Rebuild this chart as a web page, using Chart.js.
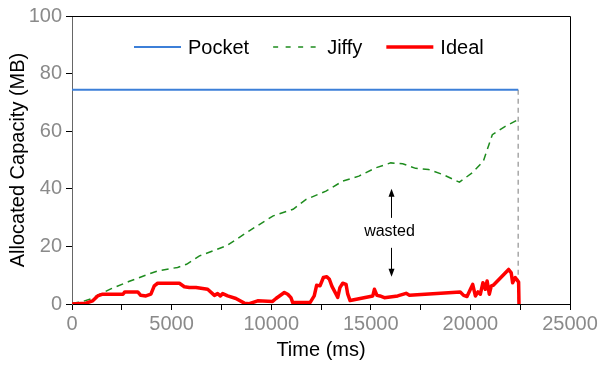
<!DOCTYPE html>
<html>
<head>
<meta charset="utf-8">
<script src="https://cdn.jsdelivr.net/npm/chart.js@4.4.1/dist/chart.umd.min.js"></script>
<style>
html,body{margin:0;padding:0;background:#fff;}
#wrap{width:600px;height:366px;}
</style>
</head>
<body>
<div id="wrap"><canvas id="c" width="600" height="366"></canvas></div>
<script>
// ---------- data ----------
const pocketTime = [0, 22400];
const pocketMB   = [74.4, 74.4];

const jiffyTime = [0, 500, 950, 1400, 2000, 2850, 3700, 4300, 5300, 5750, 6400, 7750, 8900, 10100, 11100, 11750, 12750, 13600, 14400, 15250, 16000, 16600, 17250, 17900, 18600, 19450, 20100, 20650, 21100, 21750, 22300];
const jiffyMB   = [0.3, 0.8, 1.8, 3.4, 5.4, 7.8, 10.0, 11.5, 12.7, 13.8, 16.7, 20.2, 25.4, 30.6, 32.9, 36.3, 39.2, 42.7, 44.4, 47.3, 49.0, 48.7, 47.1, 46.7, 45.0, 42.3, 45.6, 49.6, 58.8, 61.7, 63.7];

const idealTime = [0, 700, 1040, 1290, 1540, 2560, 2650, 3300, 3450, 3710, 3960, 4130, 4300, 5390, 5640, 5890, 6225, 6810, 7150, 7310, 7445, 7565, 7815, 8230, 8650, 8900, 9320, 10070, 10240, 10660, 10830, 10990, 11080, 11950, 12160, 12280, 12450, 12620, 12790, 12920, 13050, 13250, 13340, 13450, 13590, 13760, 13840, 13960, 14090, 15100, 15180, 15310, 15460, 15680, 16350, 16770, 16940, 19490, 19660, 19830, 20000, 20115, 20250, 20380, 20500, 20630, 20750, 20840, 20950, 21050, 21150, 21920, 22050, 22120, 22250, 22420, 22440];
const idealMB   = [0, 0.3, 1.1, 2.8, 3.4, 3.4, 4.2, 4.2, 3.0, 2.8, 3.4, 6.3, 7.2, 7.2, 6.0, 5.7, 5.7, 5.1, 3.0, 3.6, 2.8, 3.6, 2.8, 1.9, 0.3, 0.1, 1.1, 0.9, 1.9, 4.0, 3.4, 2.2, 0.5, 0.5, 2.8, 6.5, 6.3, 9.2, 9.5, 8.6, 6.1, 3.5, 2.3, 5.7, 7.2, 6.8, 3.5, 1.2, 1.4, 2.8, 5.1, 3.0, 2.8, 2.2, 2.8, 3.7, 3.0, 4.2, 3.0, 2.6, 5.1, 6.8, 2.8, 4.2, 3.4, 7.4, 5.1, 8.0, 3.4, 6.3, 6.5, 12.0, 10.8, 7.4, 9.2, 7.6, 0];

const endTime = [22400, 22400];
const endMB   = [74.4, 0];

const seriesLabels = ['Pocket', 'Jiffy', 'Ideal'];

const xTickLabels = [0, 5000, 10000, 15000, 20000, 25000];
const yTickLabels = [0, 20, 40, 60, 80, 100];

// annotation ("wasted" with arrows), in data units
const wastedTime = 16000;
const wastedLabelMB = 25.1;
const arrowUpMB = [29.9, 40.0];
const arrowDownMB = [19.5, 9.5];

// ---------- helpers ----------
const FONT = '"Liberation Sans", Arial, Helvetica, sans-serif';
const zip = (xs, ys) => xs.map((x, i) => ({x: x, y: ys[i]}));

const framePlugin = {
  id: 'frame',
  afterDraw(chart) {
    const {ctx, chartArea: a} = chart;
    ctx.save();
    ctx.strokeStyle = '#000';
    ctx.lineWidth = 1;
    ctx.beginPath();
    ctx.moveTo(a.left, a.top + 0.5);
    ctx.lineTo(a.right + 0.5, a.top + 0.5);
    ctx.lineTo(a.right + 0.5, a.bottom);
    ctx.stroke();
    ctx.restore();
  }
};

const annotationPlugin = {
  id: 'wasted',
  afterDatasetsDraw(chart) {
    const {ctx, scales: {x, y}} = chart;
    const px = Math.round(x.getPixelForValue(wastedTime)) + 0.5;
    ctx.save();
    ctx.strokeStyle = '#000';
    ctx.fillStyle = '#000';
    ctx.lineWidth = 1;
    const arrow = (fromV, toV) => {
      const y0 = y.getPixelForValue(fromV), y1 = y.getPixelForValue(toV);
      const dir = Math.sign(y1 - y0);
      ctx.beginPath();
      ctx.moveTo(px, y0);
      ctx.lineTo(px, y1 - dir * 6);
      ctx.stroke();
      ctx.beginPath();
      ctx.moveTo(px, y1);
      ctx.lineTo(px - 3, y1 - dir * 8);
      ctx.lineTo(px + 3, y1 - dir * 8);
      ctx.closePath();
      ctx.fill();
    };
    arrow(arrowUpMB[0], arrowUpMB[1]);
    arrow(arrowDownMB[0], arrowDownMB[1]);
    ctx.font = '16px ' + FONT;
    ctx.textAlign = 'center';
    ctx.textBaseline = 'middle';
    ctx.fillText('wasted', px - 2, y.getPixelForValue(wastedLabelMB));
    ctx.restore();
  }
};

const legendPlugin = {
  id: 'inlineLegend',
  afterDraw(chart) {
    const {ctx, chartArea: a} = chart;
    const items = chart.data.datasets.filter(d => seriesLabels.includes(d.label))
      .sort((p, q) => seriesLabels.indexOf(p.label) - seriesLabels.indexOf(q.label));
    ctx.save();
    ctx.font = '20px ' + FONT;
    ctx.textBaseline = 'middle';
    ctx.textAlign = 'left';
    let cx = a.left + 62;
    const cy = a.top + 31;
    const lineLen = 47, gapText = 7, gapItem = 24;
    items.forEach(d => {
      ctx.strokeStyle = d.borderColor;
      ctx.lineWidth = d.borderWidth;
      ctx.setLineDash(d.borderDash ? [5, 7.5] : []);
      ctx.beginPath();
      ctx.moveTo(cx, cy);
      ctx.lineTo(cx + lineLen, cy);
      ctx.stroke();
      ctx.setLineDash([]);
      cx += lineLen + gapText;
      ctx.fillStyle = '#000';
      ctx.fillText(d.label, cx, cy + 1);
      cx += ctx.measureText(d.label).width + gapItem;
    });
    ctx.restore();
  }
};

const axisFont = {size: 20, family: FONT};

new Chart(document.getElementById('c'), {
  type: 'line',
  data: {
    datasets: [
      {label: 'end', data: zip(endTime, endMB), borderColor: '#a8a8a8', borderWidth: 1.5, borderDash: [5, 4], pointRadius: 0, order: 3},
      {label: seriesLabels[0], data: zip(pocketTime, pocketMB), borderColor: '#3c7fd8', borderWidth: 2, pointRadius: 0, order: 2},
      {label: seriesLabels[1], data: zip(jiffyTime, jiffyMB), borderColor: '#1e8c1e', borderWidth: 1.5, borderDash: [7, 5], pointRadius: 0, order: 1},
      {label: seriesLabels[2], data: zip(idealTime, idealMB), borderColor: '#ff0000', borderWidth: 3.5, borderJoinStyle: 'round', pointRadius: 0, order: 0}
    ]
  },
  options: {
    responsive: false,
    animation: false,
    devicePixelRatio: 1,
    layout: {padding: {top: 15, right: 30, bottom: 0, left: 0}},
    elements: {line: {tension: 0}},
    plugins: {legend: {display: false}, tooltip: {enabled: false}},
    scales: {
      x: {
        type: 'linear', min: 0, max: 25000,
        afterBuildTicks: s => {
          const t = [];
          for (let v = s.min; v <= s.max; v += 2500) t.push({value: v});
          s.ticks = t;
        },
        ticks: {
          autoSkip: false, maxRotation: 0, color: '#8a8a8a', font: axisFont, padding: 2,
          callback: v => xTickLabels.includes(v) ? String(v) : ''
        },
        grid: {display: true, drawOnChartArea: false, drawTicks: true, tickLength: 6, color: '#000'},
        border: {display: true, color: '#000', width: 1},
        title: {display: true, text: 'Time (ms)', color: '#000', font: axisFont, padding: {top: 0, bottom: 4}},
        afterFit: s => { s.height = 62; }
      },
      y: {
        min: 0, max: 100,
        afterBuildTicks: s => { s.ticks = yTickLabels.map(v => ({value: v})); },
        ticks: {color: '#8a8a8a', font: axisFont, padding: 4, callback: v => String(v)},
        grid: {display: true, drawOnChartArea: false, drawTicks: true, tickLength: 6, color: '#000'},
        border: {display: true, color: '#666', width: 1},
        title: {display: true, text: 'Allocated Capacity (MB)', color: '#000', font: axisFont, padding: {top: 6, bottom: 0}},
        afterFit: s => { s.width = 72; }
      }
    }
  },
  plugins: [framePlugin, annotationPlugin, legendPlugin]
});
</script>
</body>
</html>
